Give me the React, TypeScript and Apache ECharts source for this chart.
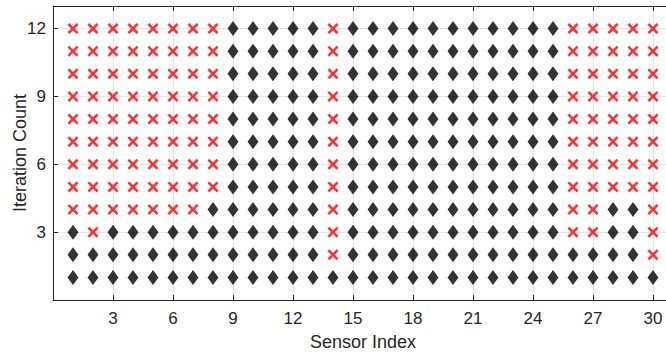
import React, { useEffect, useRef } from "react";
import * as echarts from "echarts";

// Sensor status per iteration: "x" = faulty reading, "o" = healthy reading.
// Each string covers sensors 1..30, listed from iteration 12 down to iteration 1.
const iterations: number[] = [12, 11, 10, 9, 8, 7, 6, 5, 4, 3, 2, 1];
const statusRows: string[] = [
  "xxxxxxxxoooooxoooooooooooxxxxx",
  "xxxxxxxxoooooxoooooooooooxxxxx",
  "xxxxxxxxoooooxoooooooooooxxxxx",
  "xxxxxxxxoooooxoooooooooooxxxxx",
  "xxxxxxxxoooooxoooooooooooxxxxx",
  "xxxxxxxxoooooxoooooooooooxxxxx",
  "xxxxxxxxoooooxoooooooooooxxxxx",
  "xxxxxxxxoooooxoooooooooooxxxxx",
  "xxxxxxxooooooxoooooooooooxxoox",
  "oxoooooooooooxoooooooooooxxoox",
  "oooooooooooooxooooooooooooooox",
  "oooooooooooooooooooooooooooooo",
];
const sensorIndices: number[] = Array.from({ length: 30 }, (_, i) => i + 1);
const tickStep = 3;

const crossPath =
  "path://M0,2 L2,0 L6,4 L10,0 L12,2 L8,6 L12,10 L10,12 L6,8 L2,12 L0,10 L4,6 Z";

const textColor = "#262626";
const fontFamily = "'Liberation Sans', Arial, Helvetica, sans-serif";

export default function App() {
  const ref = useRef<HTMLDivElement>(null);

  useEffect(() => {
    if (!ref.current) return;
    const chart = echarts.init(ref.current, undefined, { renderer: "svg" });

    const healthy: number[][] = [];
    const faulty: number[][] = [];
    iterations.forEach((it, r) => {
      sensorIndices.forEach((s, c) => {
        const code = statusRows[r].charAt(c);
        if (code === "x") faulty.push([s, it]);
        else healthy.push([s, it]);
      });
    });

    const hideZero = (v: number) => (v === 0 || v % tickStep !== 0 ? "" : String(v));

    chart.setOption({
      animation: false,
      backgroundColor: "#ffffff",
      grid: { left: 53, top: 6, width: 620, height: 294, outerBoundsMode: "none", containLabel: false },
      xAxis: [
        {
          type: "value",
          min: 0,
          max: 31,
          interval: tickStep,
          name: "Sensor Index",
          nameLocation: "middle",
          nameGap: 33,
          nameMoveOverlap: false,
          nameTextStyle: { color: textColor, fontSize: 18, fontFamily },
          axisLine: { show: true, lineStyle: { color: textColor, width: 1 } },
          axisTick: { show: true, inside: true, length: 5, lineStyle: { color: textColor } },
          axisLabel: { color: textColor, fontSize: 17, fontFamily, margin: 10, formatter: hideZero },
          splitLine: { show: true, lineStyle: { color: "#e6e6e6", width: 1 } },
        },
        {
          type: "value",
          position: "top",
          min: 0,
          max: 31,
          interval: tickStep,
          axisLine: { show: true, onZero: false, lineStyle: { color: textColor, width: 1 } },
          axisTick: { show: true, inside: true, length: 5, lineStyle: { color: textColor } },
          axisLabel: { show: false },
          splitLine: { show: false },
        },
      ],
      yAxis: {
        type: "value",
        min: 0,
        max: 13,
        interval: tickStep,
        name: "Iteration Count",
        nameLocation: "middle",
        nameGap: 24,
        nameMoveOverlap: false,
        nameTextStyle: { color: textColor, fontSize: 18, fontFamily },
        axisLine: { show: true, lineStyle: { color: textColor, width: 1 } },
        axisTick: { show: true, inside: true, length: 5, lineStyle: { color: textColor } },
        axisLabel: { color: textColor, fontSize: 17, fontFamily, margin: 7, formatter: hideZero },
        splitLine: { show: true, lineStyle: { color: "#e6e6e6", width: 1 } },
      },
      series: [
        {
          name: "Healthy",
          type: "scatter",
          data: healthy,
          symbol: "diamond",
          symbolSize: [11, 15],
          itemStyle: { color: "#000000" },
        },
        {
          name: "Faulty",
          type: "scatter",
          data: faulty,
          symbol: crossPath,
          symbolSize: 11,
          itemStyle: { color: "#ff0000" },
        },
      ],
    });

    return () => chart.dispose();
  }, []);

  return (
    <div style={{ position: "fixed", left: 0, top: 0, width: 666, height: 358, overflow: "hidden", background: "#fff" }}>
      <div ref={ref} style={{ width: 666, height: 358 }} />
    </div>
  );
}
